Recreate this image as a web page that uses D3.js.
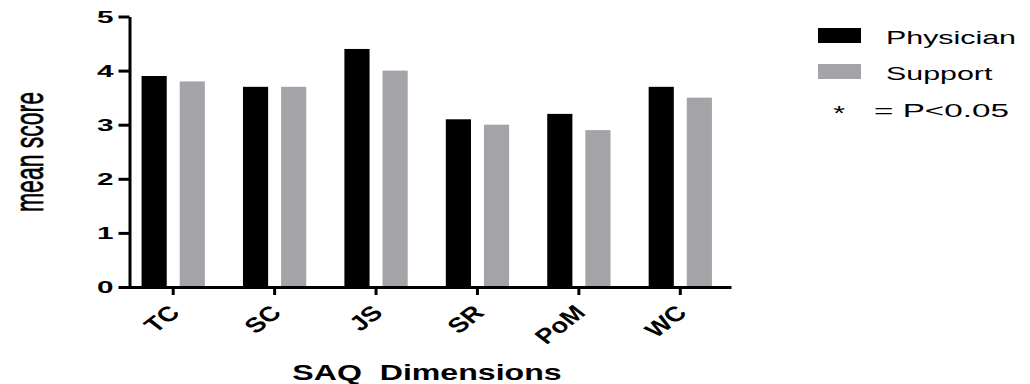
<!DOCTYPE html>
<html>
<head>
<meta charset="utf-8">
<script src="https://cdn.jsdelivr.net/npm/d3@7"></script>
<style>
  body { margin: 0; background: #fff; }
  svg { display: block; font-family: "Liberation Sans", Arial, sans-serif; }
</style>
</head>
<body>
<svg></svg>
<script>
// chart values
var categories = ["TC", "SC", "JS", "SR", "PoM", "WC"];
var seriesNames = ["Physician", "Support"];
var physician = [3.9, 3.7, 4.4, 3.1, 3.2, 3.7];
var support = [3.8, 3.7, 4.0, 3.0, 2.9, 3.5];
var yTicks = [0, 1, 2, 3, 4, 5];
var sigNote = "= P<0.05";

var svgWidth = 1030, svgHeight = 384;
var colors = { Physician: "#000000", Support: "#a4a3a8" };

var svg = d3.select("svg")
    .attr("width", svgWidth)
    .attr("height", svgHeight);

// scales
var x0 = d3.scaleBand().domain(categories).range([122.5, 731]).padding(0);
var x1 = d3.scaleBand().domain(seriesNames)
    .range([0, x0.bandwidth()])
    .paddingInner(0.34)
    .paddingOuter(0.5);
var y = d3.scaleLinear().domain([0, 5]).range([287, 16.5]);

var rows = categories.map(function(c, i) {
    return { cat: c, values: [
        { key: "Physician", value: physician[i] },
        { key: "Support", value: support[i] }
    ] };
});

// bars
var groups = svg.append("g").selectAll("g")
    .data(rows)
    .join("g")
    .attr("transform", function(d) { return "translate(" + x0(d.cat) + ",0)"; });

groups.selectAll("rect")
    .data(function(d) { return d.values; })
    .join("rect")
    .attr("x", function(d) { return x1(d.key); })
    .attr("width", x1.bandwidth())
    .attr("y", function(d) { return y(d.value); })
    .attr("height", function(d) { return y(0) - y(d.value); })
    .attr("fill", function(d) { return colors[d.key]; });

// y axis
var yAxis = svg.append("g")
    .attr("transform", "translate(129.5,0)")
    .call(d3.axisLeft(y).tickValues(yTicks).tickFormat(d3.format("d")).tickSize(11).tickSizeOuter(0));
yAxis.select(".domain").attr("stroke", "#000").attr("stroke-width", 3);
yAxis.selectAll(".tick line").attr("stroke", "#000").attr("stroke-width", 3);
var SY = 1.8;
yAxis.selectAll(".tick text")
    .attr("x", -16 / SY)
    .attr("dy", "0.36em")
    .attr("transform", "scale(" + SY + ",1)")
    .attr("fill", "#000")
    .style("font-size", "16.5px")
    .style("font-weight", "bold")
    .style("font-family", "Liberation Sans, Arial, sans-serif");

// x axis
var xAxis = svg.append("g")
    .attr("transform", "translate(0,287)")
    .call(d3.axisBottom(x0).tickSize(8).tickSizeOuter(0));
xAxis.select(".domain").attr("stroke", "#000").attr("stroke-width", 3);
xAxis.selectAll(".tick line").attr("stroke", "#000").attr("stroke-width", 3);
var SX = 1.3;
xAxis.selectAll(".tick text")
    .attr("x", null).attr("y", null).attr("dy", null)
    .attr("text-anchor", "end")
    .attr("transform", "translate(8,27) scale(" + SX + ",1) rotate(-45)")
    .attr("fill", "#000")
    .style("font-size", "21px")
    .style("font-weight", "bold")
    .style("font-family", "Liberation Sans, Arial, sans-serif");

// axis titles
svg.append("text")
    .attr("transform", "translate(427,380) scale(1.46,1)")
    .attr("text-anchor", "middle")
    .style("white-space", "pre")
    .style("font-size", "22px")
    .style("font-weight", "bold")
    .text("SAQ  Dimensions");

svg.append("text")
    .attr("transform", "translate(43,152) scale(1.75,1) rotate(-90)")
    .attr("text-anchor", "middle")
    .attr("stroke", "#000")
    .attr("stroke-width", 0.4)
    .style("font-size", "23px")
    .text("mean score");

// legend
var legend = svg.append("g");
var legendY = d3.scalePoint().domain(seriesNames).range([28, 64]);
legend.selectAll("rect")
    .data(seriesNames)
    .join("rect")
    .attr("x", 818)
    .attr("y", function(d) { return legendY(d); })
    .attr("width", 43)
    .attr("height", 15)
    .attr("fill", function(d) { return colors[d]; });
legend.selectAll("text.lab")
    .data(seriesNames)
    .join("text")
    .attr("class", "lab")
    .attr("transform", function(d) { return "translate(886," + (legendY(d) + 15.5) + ") scale(1.6,1)"; })
    .style("font-size", "19px")
    .attr("fill", "#000")
    .text(function(d) { return d; });

legend.append("text")
    .attr("transform", "translate(839,120) scale(1.5,1)")
    .attr("text-anchor", "middle")
    .style("font-size", "20px")
    .text("*");
legend.append("text")
    .attr("transform", "translate(874,117) scale(1.75,1)")
    .style("font-size", "19px")
    .style("white-space", "pre")
    .text(sigNote);
</script>
</body>
</html>
